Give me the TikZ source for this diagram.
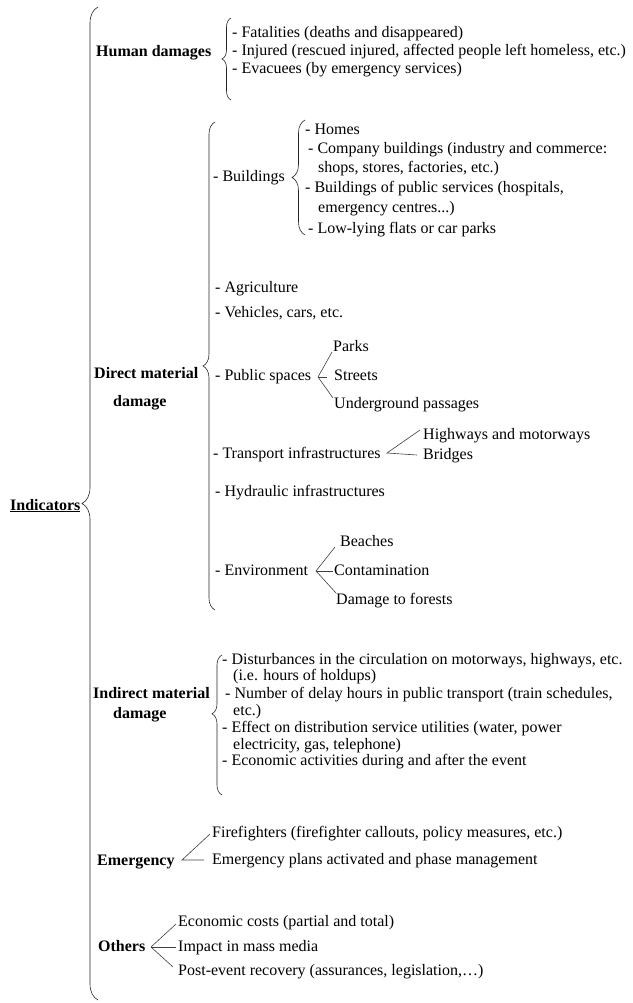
\documentclass[tikz,border=0pt]{standalone}
\usepackage{fontspec}
\setmainfont{Liberation Serif}
\usetikzlibrary{decorations.pathreplacing}
\begin{document}
\begin{tikzpicture}[x=1pt,y=-1pt,
 txt/.style={anchor=base west, inner sep=0pt, font=\fontsize{16}{18}\selectfont},
 bld/.style={anchor=base west, inner sep=0pt, font=\fontsize{16}{18}\selectfont\bfseries},
 ln/.style={draw=black!75, line width=0.6pt},
 brc/.style={draw=black!85, line width=0.6pt, decorate, decoration={brace, amplitude=#1}}]
\useasboundingbox (0,0) rectangle (632,1003);

% top level
\node[bld] (ind) at (10,510) {\underline{Indicators}};

% Human damages
\node[bld] (hum) at (96,57) {Human damages};
\node[txt] (h1) at (232,38) {- Fatalities (deaths and disappeared)};
\node[txt] (h2) at (232,56) {- Injured (rescued injured, affected people left homeless, etc.)};
\node[txt] (h3) at (232,74) {- Evacuees (by emergency services)};

% Direct material damage
\node[bld] (dir) at (94,378) {Direct material};
\node[bld] (dir2) at (113,406) {damage};
\node[txt] (bui) at (213,182) {- Buildings};
\node[txt] (b1) at (305,135) {- Homes};
\node[txt] (b2) at (308,154) {- Company buildings (industry and commerce:};
\node[txt] (b2b) at (318,173) {shops, stores, factories, etc.)};
\node[txt] (b3) at (305,193) {- Buildings of public services (hospitals,};
\node[txt] (b3b) at (318,212) {emergency centres...)};
\node[txt] (b4) at (308,233) {- Low-lying flats or car parks};
\node[txt] (agr) at (215,292) {- Agriculture};
\node[txt] (veh) at (215,317) {- Vehicles, cars, etc.};
\node[txt] (pub) at (215,380) {- Public spaces};
\node[txt] (parks) at (333,351) {Parks};
\node[txt] (streets) at (334,380) {Streets};
\node[txt] (under) at (334,408) {Underground passages};
\node[txt] (tra) at (213,458) {- Transport infrastructures};
\node[txt] (high) at (423,439) {Highways and motorways};
\node[txt] (brid) at (423,459) {Bridges};
\node[txt] (hyd) at (215,496) {- Hydraulic infrastructures};
\node[txt] (env) at (215,575) {- Environment};
\node[txt] (beach) at (340,546) {Beaches};
\node[txt] (cont) at (334,575) {Contamination};
\node[txt] (forest) at (336,604) {Damage to forests};

% Indirect material damage
\node[bld] (ind1) at (93,698) {Indirect material};
\node[bld] (ind2) at (113,718) {damage};
\node[txt] (i1) at (222,664) {- Disturbances in the circulation on motorways, highways, etc.};
\node[txt] (i1b) at (233,680) {(i.e. hours of holdups)};
\node[txt] (i2) at (225,698) {- Number of delay hours in public transport (train schedules,};
\node[txt] (i2b) at (233,715) {etc.)};
\node[txt] (i3) at (222,732) {- Effect on distribution service utilities (water, power};
\node[txt] (i3b) at (233,749) {electricity, gas, telephone)};
\node[txt] (i4) at (222,765) {- Economic activities during and after the event};

% Emergency
\node[bld] (eme) at (97,865) {Emergency};
\node[txt] (fire) at (212,837) {Firefighters (firefighter callouts, policy measures, etc.)};
\node[txt] (plan) at (212,864) {Emergency plans activated and phase management};

% Others
\node[bld] (oth) at (98,951) {Others};
\node[txt] (eco) at (178,926) {Economic costs (partial and total)};
\node[txt] (imp) at (178,951) {Impact in mass media};
\node[txt] (post) at (178,975) {Post-event recovery (assurances, legislation,…)};

% braces
\coordinate (bigB) at (98,1000); \coordinate (bigT) at (98,7);
\draw[brc=16pt] (bigB) -- (bigT);
\coordinate (humB) at (231,100); \coordinate (humT) at (231,18);
\draw[brc=9pt] (humB) -- (humT);
\coordinate (dirB) at (215,610); \coordinate (dirT) at (215,122);
\draw[brc=12pt] (dirB) -- (dirT);
\coordinate (buiB) at (305,235); \coordinate (buiT) at (305,120);
\draw[brc=13pt] (buiB) -- (buiT);
\coordinate (indB) at (222,795); \coordinate (indT) at (222,655);
\draw[draw=black!85, line width=0.6pt, decorate, decoration={brace, amplitude=10pt, aspect=0.58}] (indB) -- (indT);

% forks
\coordinate (psA) at (318,377); \coordinate (psP) at (332,352);
\coordinate (psS) at (327,377); \coordinate (psU) at (333,398);
\draw[ln] (psP) -- (psA) -- (psU); \draw[ln] (psA) -- (psS);

\coordinate (trA) at (387,453); \coordinate (trH) at (420,430); \coordinate (trB) at (417,455);
\draw[ln] (trH) -- (trA) -- (trB);

\coordinate (enA) at (316,571); \coordinate (enB) at (335,547);
\coordinate (enC) at (333,571); \coordinate (enF) at (336,593);
\draw[ln] (enB) -- (enA) -- (enF); \draw[ln] (enA) -- (enC);

\coordinate (emA) at (182,860); \coordinate (emF) at (210,834); \coordinate (emP) at (204,860);
\draw[ln] (emF) -- (emA) -- (emP);

\coordinate (otA) at (151,947); \coordinate (otE) at (176,924);
\coordinate (otI) at (176,947); \coordinate (otP) at (173,967);
\draw[ln] (otE) -- (otA) -- (otP); \draw[ln] (otA) -- (otI);
\end{tikzpicture}
\end{document}
